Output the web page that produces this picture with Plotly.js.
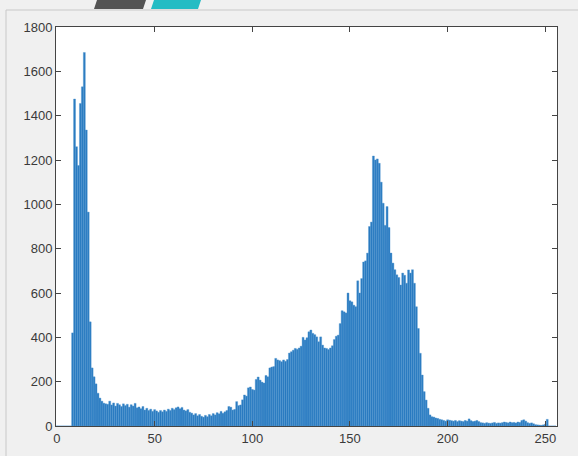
<!DOCTYPE html>
<html>
<head>
<meta charset="utf-8">
<script src="https://cdn.plot.ly/plotly-3.0.1.min.js"></script>
<style>
  html, body { margin: 0; padding: 0; background: #f0f0f0; }
  #chart { width: 578px; height: 456px; }
</style>
</head>
<body>
<div id="chart"></div>
<script>
// Grey levels 0..255
const levels = Array.from({length: 256}, (_, i) => i);

// Pixel count for each grey level
const counts = [
  0, 0, 0, 0, 0, 0, 0, 0,
  420, 1475, 1260, 1175, 1455, 1530, 1685, 1335, 965, 470,
  262, 222, 190, 148, 126, 112, 103, 100, 98, 112,
  95, 104, 90, 102, 96, 88, 100, 92, 98, 85,
  96, 90, 102, 82, 86, 78, 88, 72, 80, 70,
  76, 66, 74, 68, 62, 70, 64, 72, 66, 76,
  70, 80, 74, 82, 86, 78, 84, 72, 68, 74,
  62, 58, 50, 56, 46, 52, 44, 40, 48, 42,
  52, 46, 56, 50, 60, 55, 66, 58, 64, 70,
  88, 85, 72, 75, 110, 92, 95, 118, 140, 135,
  172, 176, 165, 162, 210, 221, 207, 198, 194, 228,
  222, 262, 266, 268, 305, 298, 295, 290, 298, 292,
  300, 329, 335, 342, 350, 346, 352, 360, 400, 388,
  398, 425, 433, 418, 412, 402, 380, 402, 365, 352,
  350, 345, 352, 362, 390, 405, 410, 462, 520, 515,
  510, 600, 565, 560, 545, 538, 655, 600, 665, 740,
  745, 780, 900, 920, 1218, 1200, 1205, 1185, 1100, 1005,
  905, 990, 895, 780, 735, 705, 682, 670, 636, 690,
  680, 644, 704, 690, 705, 644, 538, 440, 328, 230,
  155, 117, 80, 50, 42, 40, 36, 34, 30, 28,
  25, 22, 28, 26, 24, 22, 25, 20, 24, 22,
  20, 25, 22, 32, 24, 20, 22, 25, 20, 15,
  14, 12, 15, 13, 12, 14, 16, 12, 14, 13,
  15, 18, 16, 14, 18, 15, 16, 14, 18, 16,
  25, 28, 22, 15, 12, 14, 10, 6, 5, 4,
  3, 5, 8, 30, 0, 0, 0, 0
];

const xTicks = [0, 50, 100, 150, 200, 250];
const yTicks = [0, 200, 400, 600, 800, 1000, 1200, 1400, 1600, 1800];

// Figure geometry (pixels) used to place the frame decorations
const W = 578, H = 456;
const M = {l: 56, r: 21, t: 27, b: 30};
const PW = W - M.l - M.r, PH = H - M.t - M.b;
const px = v => (v - M.l) / PW;
const py = v => (H - M.b - v) / PH;
const poly = pts => 'M' + pts.map(p => px(p[0]) + ',' + py(p[1])).join('L') + 'Z';

const axisColor = '#444444';
const axisCommon = {
  showline: true, linecolor: axisColor, linewidth: 1, mirror: 'ticks',
  ticks: 'inside', ticklen: 5, tickwidth: 1, tickcolor: axisColor,
  showgrid: false, zeroline: false,
  tickfont: {family: 'Liberation Sans, Arial, sans-serif', size: 13, color: '#3a3a3a'}
};

const trace = {
  type: 'bar',
  x: levels,
  y: counts,
  marker: {color: '#2a7bc1', line: {width: 0.4, color: '#4f95cf'}},
  hoverinfo: 'x+y'
};

const layout = {
  width: W, height: H,
  margin: M,
  paper_bgcolor: '#f0f0f0',
  plot_bgcolor: '#ffffff',
  bargap: 0,
  showlegend: false,
  xaxis: Object.assign({}, axisCommon, {
    range: [-0.5, 256], tickmode: 'array', tickvals: xTicks, ticktext: xTicks.map(String)
  }),
  yaxis: Object.assign({}, axisCommon, {
    range: [0, 1800], tickmode: 'array', tickvals: yTicks, ticktext: yTicks.map(String)
  }),
  shapes: [
    // window frame edges
    {type: 'line', xref: 'paper', yref: 'paper', x0: px(6), x1: px(578), y0: py(10), y1: py(10),
     line: {color: '#c8c8c8', width: 1}, layer: 'below'},
    {type: 'line', xref: 'paper', yref: 'paper', x0: px(6), x1: px(6), y0: py(10), y1: py(456),
     line: {color: '#c8c8c8', width: 1}, layer: 'below'},
    // header tabs
    {type: 'path', xref: 'paper', yref: 'paper', path: poly([[94, 9], [97, 0], [146, 0], [143, 9]]),
     fillcolor: '#545454', line: {width: 0}, layer: 'below'},
    {type: 'path', xref: 'paper', yref: 'paper', path: poly([[151, 9], [154, 0], [201, 0], [198, 9]]),
     fillcolor: '#24bcc4', line: {width: 0}, layer: 'below'}
  ]
};

Plotly.newPlot('chart', [trace], layout, {displayModeBar: false, staticPlot: true});
</script>
</body>
</html>
